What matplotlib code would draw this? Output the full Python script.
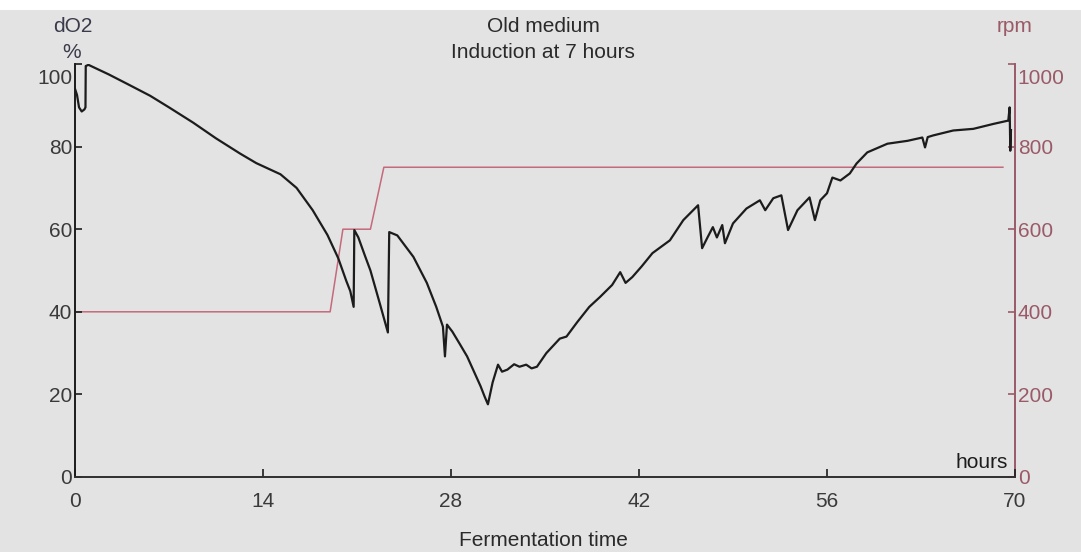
import matplotlib
matplotlib.use('Agg')
import matplotlib.pyplot as plt
from matplotlib.patches import Rectangle
from matplotlib.transforms import ScaledTranslation

# dissolved oxygen trace (hours, % saturation)
hours = [0.0, 0.15, 0.3, 0.5, 0.7, 0.78, 0.8, 1.0,
         2.5, 4.0, 5.6, 7.0, 8.8, 10.5, 12.3, 13.5, 15.3, 16.5, 17.7, 18.8,
         19.6, 20.2, 20.5, 20.75, 20.8, 21.1, 21.6, 22.0, 22.7, 23.3, 23.4,
         24.0, 25.2, 26.2, 26.9, 27.4, 27.55, 27.7, 28.1, 28.6, 29.2, 30.2,
         30.5, 30.75, 31.1, 31.5, 31.8, 32.2, 32.7, 33.1, 33.6, 34.0, 34.4,
         35.1, 36.1, 36.6, 37.4, 38.3, 39.1, 40.0, 40.6, 41.0, 41.5, 42.2,
         43.0, 44.3, 45.3, 46.4, 46.7, 47.1, 47.5, 47.8, 48.2, 48.4, 49.0,
         50.0, 51.0, 51.4, 52.0, 52.6, 53.1, 53.8, 54.7, 55.1, 55.5, 56.0,
         56.4, 57.0, 57.7, 58.2, 59.0, 60.5, 62.0, 63.1, 63.3, 63.5, 63.9,
         65.4, 66.9, 68.4, 69.5, 69.6, 69.65, 69.7]
do2 = [94.0, 92.5, 89.5, 88.5, 89.0, 89.5, 99.5, 99.8,
       97.5, 95.0, 92.3, 89.5, 85.8, 82.0, 78.3, 76.0, 73.3, 70.0, 64.6, 58.6,
       53.0, 47.5, 45.0, 41.2, 59.8, 58.0, 53.5, 50.0, 42.0, 35.0, 59.3,
       58.5, 53.3, 47.0, 41.2, 36.4, 29.2, 36.9, 35.2, 32.5, 29.2, 22.0,
       19.5, 17.6, 22.9, 27.2, 25.5, 26.0, 27.3, 26.7, 27.2, 26.3, 26.7,
       30.0, 33.5, 34.0, 37.5, 41.2, 43.6, 46.5, 49.6, 47.0, 48.4, 51.0,
       54.2, 57.3, 62.2, 65.8, 55.4, 58.0, 60.5, 58.0, 61.0, 56.6, 61.4,
       65.0, 67.0, 64.6, 67.5, 68.2, 59.8, 64.6, 67.7, 62.2, 67.0, 68.7,
       72.5, 71.8, 73.5, 75.9, 78.6, 80.7, 81.4, 82.2, 79.8, 82.3, 82.7,
       83.9, 84.3, 85.5, 86.3, 89.5, 79.0, 84.0]

# stirrer speed setpoint (hours, rpm)
rpm_hours = [0.0, 19.0, 19.95, 22.0, 23.0, 69.1]
rpm = [400, 400, 600, 600, 750, 750]

x_ticks = [0, 14, 28, 42, 56, 70]
do2_ticks = [0, 20, 40, 60, 80, 100]
rpm_ticks = [0, 200, 400, 600, 800, 1000]

W, H = 1081, 552
plt.rcParams['font.family'] = ['Liberation Sans', 'DejaVu Sans']
plt.rcParams['font.size'] = 15

dark = '#1c1c1c'
maroon = '#9a5a68'
pink = '#c46a7c'

fig = plt.figure(figsize=(W / 100, H / 100), dpi=100, facecolor='#e3e3e3')
fig.add_artist(Rectangle((0, 1 - 10 / H), 1, 10 / H, transform=fig.transFigure,
                         facecolor='white', edgecolor='none', zorder=-1))

ax = fig.add_axes([75 / W, (H - 477) / H, 940 / W, 413 / H])
ax.patch.set_visible(False)
ax2 = ax.twinx()

ax2.plot(rpm_hours, rpm, color=pink, lw=1.1, zorder=1)
ax.plot(hours, do2, color=dark, lw=1.6, zorder=3)
ax.set_zorder(ax2.get_zorder() + 1)

ax.set_xlim(0, 70)
ax.set_ylim(0, 100)
ax2.set_ylim(0, 1000)
ax.set_xticks(x_ticks)
ax.set_yticks(do2_ticks)
ax2.set_yticks(rpm_ticks)

for s in ['top', 'right']:
    ax.spines[s].set_visible(False)
for s in ['top', 'left', 'bottom']:
    ax2.spines[s].set_visible(False)
ax.spines['left'].set_color(dark)
ax.spines['left'].set_linewidth(1.4)
ax.spines['bottom'].set_color('#303030')
ax.spines['bottom'].set_linewidth(1.4)
ax2.spines['right'].set_color(maroon)
ax2.spines['right'].set_linewidth(1.4)

ax.tick_params(axis='y', direction='in', length=5, width=1.2, color=dark,
               labelcolor='#3a3a3a', pad=2)
ax.tick_params(axis='x', direction='in', length=6, width=1.2, color=dark,
               labelcolor='#3a3a3a', pad=11)
ax2.tick_params(axis='y', direction='in', length=5, width=1.2, color=maroon,
                labelcolor=maroon, pad=2)

# the top labels sit a little below the axis end
shift = ScaledTranslation(0, -0.13, fig.dpi_scale_trans)
for t in [ax.yaxis.get_major_ticks()[-1], ax2.yaxis.get_major_ticks()[-1]]:
    for lab in [t.label1, t.label2]:
        lab.set_transform(lab.get_transform() + shift)

ax.text(0.9926, 0.034, 'hours', transform=ax.transAxes, ha='right', va='center',
        color=dark)

fig.text(73 / W, 1 - 27 / H, 'dO2', ha='center', va='center', color='#3a3a4a')
fig.text(72 / W, 1 - 52 / H, '%', ha='center', va='center', color='#3a3a4a')
fig.text(1015 / W, 1 - 26 / H, 'rpm', ha='center', va='center', color=maroon)
fig.text(543 / W, 1 - 27 / H, 'Old medium', ha='center', va='center', color='#2a2a2a')
fig.text(543 / W, 1 - 52 / H, 'Induction at 7 hours', ha='center', va='center',
         color='#2a2a2a')
fig.text(543 / W, 1 - 540 / H, 'Fermentation time', ha='center', va='center',
         color='#2a2a2a')

fig.savefig('out.png', dpi=100, facecolor=fig.get_facecolor())
